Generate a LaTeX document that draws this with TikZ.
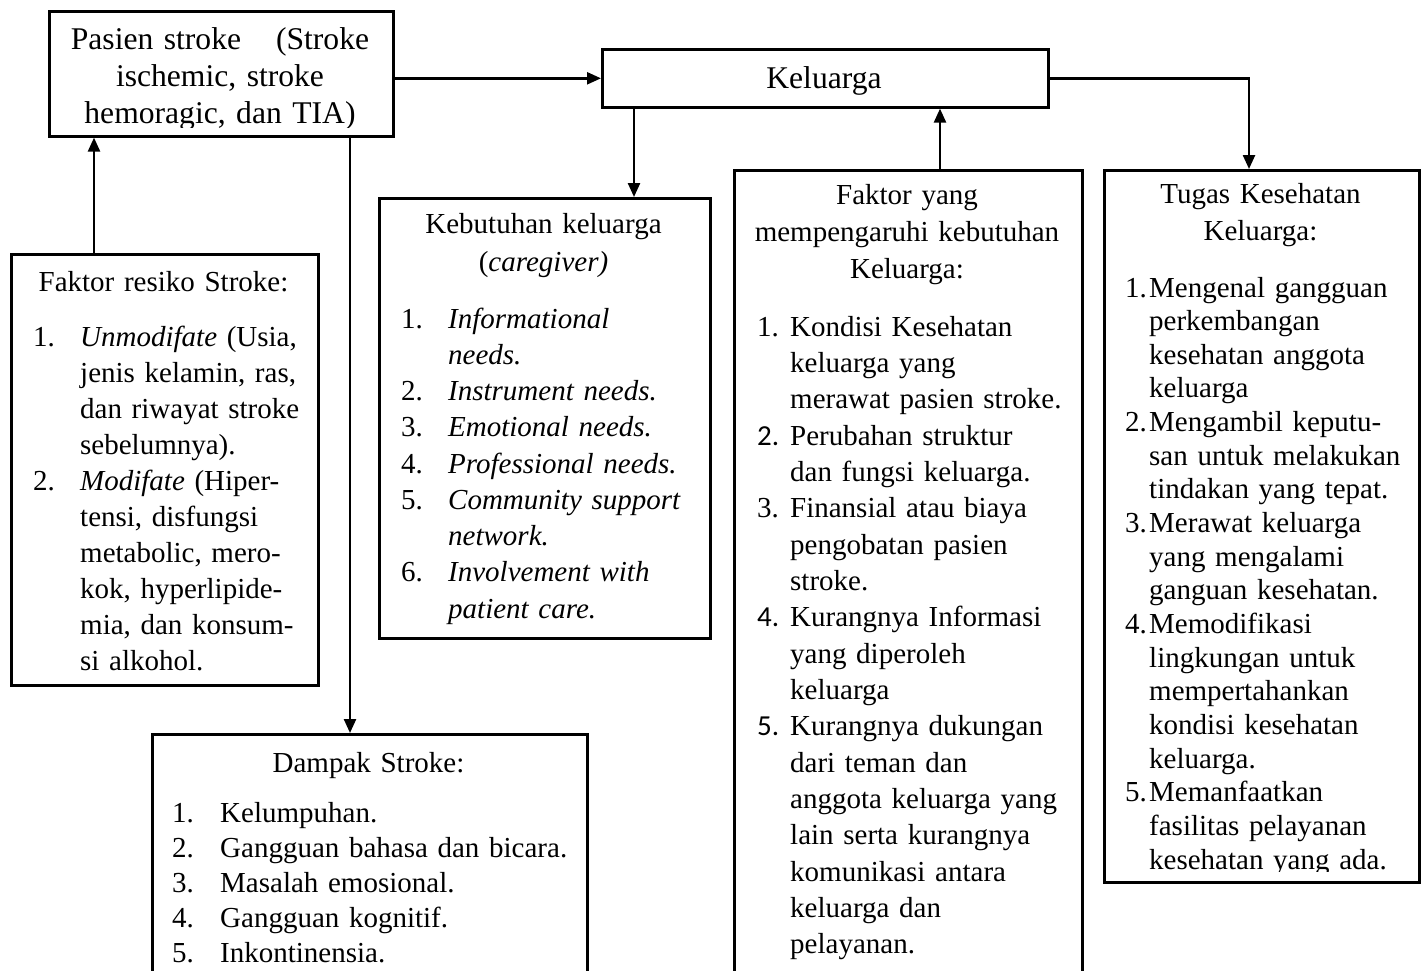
\documentclass[tikz,border=0pt]{standalone}
\usepackage{fontspec}
\setmainfont{Liberation Serif}
\newfontfamily\calib{Carlito}
\usetikzlibrary{arrows.meta,calc}
\newcommand\fBig{\fontsize{31.6}{37}\selectfont}
\newcommand\numb[2]{\makebox[#1][l]{#2}}
\begin{document}
\begin{tikzpicture}[x=1pt,y=-1pt,
  box/.style={draw,line width=2.6pt,rectangle,anchor=north west,inner sep=0pt},
  arr/.style={line width=2.4pt,-{Triangle[length=14pt,width=12pt]}},
  hd/.style={anchor=base,inner sep=0pt,align=center,text width=330pt,font=\fontsize{29}{37}\selectfont},
  lst/.style={anchor=base west,inner sep=0pt,align=left,text width=420pt},
]
\fill[white] (0,0) rectangle (1424,970);
\clip (0,0) rectangle (1424,970);
% boxes
\node[box,minimum width=344pt,minimum height=125pt] (pas) at (48,10) {};
\node[box,minimum width=446pt,minimum height=58pt] (kel) at (601,48) {};
\node[box,minimum width=331pt,minimum height=440pt] (keb) at (378,197) {};
\node[box,minimum width=348pt,minimum height=840pt] (fyb) at (733,169) {};
\node[box,minimum width=315pt,minimum height=712pt,line width=3.2pt] (tug) at (1103,169) {};
\node[box,minimum width=307pt,minimum height=431pt] (fres) at (10,253) {};
\node[box,minimum width=435pt,minimum height=300pt] (dam) at (151,733) {};
% texts
\begin{scope}
\clip (48,10) rectangle (392,127);
\node[hd,font=\fBig] (pasT) at (220,49) {Pasien stroke\hspace{35pt}(Stroke\\ischemic, stroke\\hemoragic, dan TIA)};
\end{scope}
\node[hd,font=\fBig] (kelT) at (824,88) {Keluarga};
\node[hd,font=\fontsize{29}{38}\selectfont] (kebH) at (543.5,233) {Kebutuhan keluarga\\(\textit{caregiver)}};
\node[lst,font=\fontsize{29}{36.25}\selectfont] (kebL) at (401,328) {%
\numb{47pt}{1.}\textit{Informational}\\
\hspace*{47pt}\textit{needs.}\\
\numb{47pt}{2.}\textit{Instrument needs.}\\
\numb{47pt}{3.}\textit{Emotional needs.}\\
\numb{47pt}{4.}\textit{Professional needs.}\\
\numb{47pt}{5.}\textit{Community support}\\
\hspace*{47pt}\textit{network.}\\
\numb{47pt}{6.}\textit{Involvement with}\\
\hspace*{47pt}\textit{patient care.}};
\node[hd] (fresH) at (163.5,291) {Faktor resiko Stroke:};
\node[lst,font=\fontsize{29}{36.1}\selectfont] (fresL) at (33,346) {%
\numb{47pt}{1.}\textit{Unmodifate} (Usia,\\
\hspace*{47pt}jenis kelamin, ras,\\
\hspace*{47pt}dan riwayat stroke\\
\hspace*{47pt}sebelumnya).\\
\numb{47pt}{2.}\textit{Modifate} (Hiper-\\
\hspace*{47pt}tensi, disfungsi\\
\hspace*{47pt}metabolic, mero-\\
\hspace*{47pt}kok, hyperlipide-\\
\hspace*{47pt}mia, dan konsum-\\
\hspace*{47pt}si alkohol.};
\node[hd] (fybH) at (907,204) {Faktor yang\\mempengaruhi kebutuhan\\Keluarga:};
\node[lst,font=\fontsize{29}{36.35}\selectfont] (fybL) at (757,336) {%
\numb{33pt}{1.}Kondisi Kesehatan\\
\hspace*{33pt}keluarga yang\\
\hspace*{33pt}merawat pasien stroke.\\
\numb{33pt}{\calib 2.}Perubahan struktur\\
\hspace*{33pt}dan fungsi keluarga.\\
\numb{33pt}{3.}Finansial atau biaya\\
\hspace*{33pt}pengobatan pasien\\
\hspace*{33pt}stroke.\\
\numb{33pt}{\calib 4.}Kurangnya Informasi\\
\hspace*{33pt}yang diperoleh\\
\hspace*{33pt}keluarga\\
\numb{33pt}{\calib 5.}Kurangnya dukungan\\
\hspace*{33pt}dari teman dan\\
\hspace*{33pt}anggota keluarga yang\\
\hspace*{33pt}lain serta kurangnya\\
\hspace*{33pt}komunikasi antara\\
\hspace*{33pt}keluarga dan\\
\hspace*{33pt}pelayanan.};
\node[hd] (tugH) at (1260.5,203) {Tugas Kesehatan\\Keluarga:};
\begin{scope}
\clip (1103,169) rectangle (1418,871.5);
\node[lst,font=\fontsize{29}{33.65}\selectfont] (tugL) at (1125,297) {%
\numb{24pt}{1.}Mengenal gangguan\\
\hspace*{24pt}perkembangan\\
\hspace*{24pt}kesehatan anggota\\
\hspace*{24pt}keluarga\\
\numb{24pt}{2.}Mengambil keputu-\\
\hspace*{24pt}san untuk melakukan\\
\hspace*{24pt}tindakan yang tepat.\\
\numb{24pt}{3.}Merawat keluarga\\
\hspace*{24pt}yang mengalami\\
\hspace*{24pt}ganguan kesehatan.\\
\numb{24pt}{4.}Memodifikasi\\
\hspace*{24pt}lingkungan untuk\\
\hspace*{24pt}mempertahankan\\
\hspace*{24pt}kondisi kesehatan\\
\hspace*{24pt}keluarga.\\
\numb{24pt}{5.}Memanfaatkan\\
\hspace*{24pt}fasilitas pelayanan\\
\hspace*{24pt}kesehatan yang ada.};
\end{scope}
\node[hd] (damH) at (368.5,772) {Dampak Stroke:};
\node[lst,font=\fontsize{29}{35}\selectfont] (damL) at (172,822) {%
\numb{48pt}{1.}Kelumpuhan.\\
\numb{48pt}{2.}Gangguan bahasa dan bicara.\\
\numb{48pt}{3.}Masalah emosional.\\
\numb{48pt}{4.}Gangguan kognitif.\\
\numb{48pt}{5.}Inkontinensia.};
% connector attachment points
\coordinate (kebIn) at ($(keb.north west)+(256,0)$);
\coordinate (fybOut) at ($(fyb.north west)+(207,0)$);
\coordinate (tugIn) at ($(tug.north west)+(146,0)$);
\coordinate (fresOut) at ($(fres.north west)+(84,0)$);
\coordinate (damIn) at ($(dam.north west)+(199,0)$);
% connectors
\draw[arr] (kel.west -| pas.east) -- (kel.west);
\draw[arr] (kebIn |- kel.south) -- (kebIn);
\draw[arr] (fybOut) -- (fybOut |- kel.south);
\draw[arr] (kel.east) -| (tugIn);
\draw[arr] (fresOut) -- (fresOut |- pas.south);
\draw[arr] (damIn |- pas.south) -- (damIn);
\end{tikzpicture}
\end{document}
